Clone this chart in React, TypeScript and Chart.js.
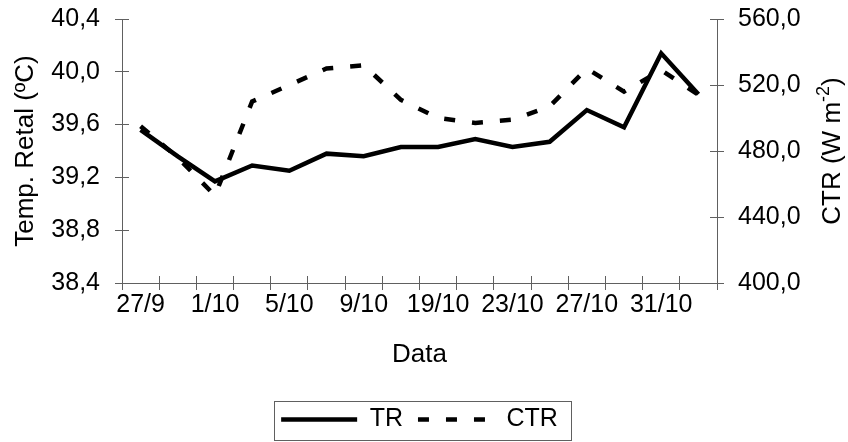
import React, { useEffect, useRef } from 'react';
import { Chart, registerables } from 'chart.js';

Chart.register(...registerables);

const categories = ['27/9', '29/9', '1/10', '3/10', '5/10', '7/10', '9/10', '17/10', '19/10', '21/10', '23/10', '25/10', '27/10', '29/10', '31/10', '2/11'];
const trValues = [39.56, 39.36, 39.17, 39.29, 39.25, 39.38, 39.36, 39.43, 39.43, 39.49, 39.43, 39.47, 39.71, 39.58, 40.14, 39.83];
const ctrValues = [495, 476, 453, 510, 520, 530, 532, 511, 500, 497, 499, 507, 530, 516, 529, 514];
const leftTicks = [38.4, 38.8, 39.2, 39.6, 40.0, 40.4];
const rightTicks = [400, 440, 480, 520, 560];

const FAMILY = '"Liberation Sans", Arial, Helvetica, sans-serif';
const FS = 25;
const TFS = 26;
const AXIS = '#606060';
const CTR_DASH = [11, 17];

const fmt = (v: number) => Number(v).toFixed(1).replace('.', ',');

const innerTicks = {
  id: 'innerTicks',
  beforeDatasetsDraw(chart: any) {
    const { ctx } = chart;
    const x = chart.scales.x;
    const yl = chart.scales.y;
    const yr = chart.scales.y1;
    const L = 7;
    ctx.save();
    ctx.strokeStyle = AXIS;
    ctx.lineWidth = 1;
    ctx.beginPath();
    yl.ticks.forEach((_t: any, i: number) => {
      const py = Math.floor(yl.getPixelForTick(i)) + 0.5;
      ctx.moveTo(yl.right, py);
      ctx.lineTo(yl.right + L, py);
    });
    yr.ticks.forEach((_t: any, i: number) => {
      const py = Math.floor(yr.getPixelForTick(i)) + 0.5;
      ctx.moveTo(yr.left - L, py);
      ctx.lineTo(yr.left, py);
    });
    const n = x.ticks.length;
    const step = (x.right - x.left) / n;
    for (let i = 0; i <= n; i++) {
      const px = Math.floor(x.left + i * step) + 0.5;
      ctx.moveTo(px, x.top - L);
      ctx.lineTo(px, x.top);
    }
    ctx.stroke();
    ctx.restore();
  },
};

const extras = {
  id: 'extras',
  afterDraw(chart: any) {
    const { ctx, chartArea } = chart;
    // right axis title, rotated, with superscript
    const cy = (chartArea.top + chartArea.bottom) / 2;
    const bx = 840;
    const SUP = 18;
    ctx.save();
    ctx.translate(bx, cy);
    ctx.rotate(-Math.PI / 2);
    ctx.fillStyle = '#000';
    ctx.textBaseline = 'alphabetic';
    ctx.textAlign = 'left';
    const main = 'CTR (W m';
    const sup = '-2';
    const close = ')';
    ctx.font = `${TFS}px ${FAMILY}`;
    const w1 = ctx.measureText(main).width;
    const w3 = ctx.measureText(close).width;
    ctx.font = `${SUP}px ${FAMILY}`;
    const w2 = ctx.measureText(sup).width;
    let sx = -(w1 + w2 + w3) / 2;
    ctx.font = `${TFS}px ${FAMILY}`;
    ctx.fillText(main, sx, 0);
    sx += w1;
    ctx.font = `${SUP}px ${FAMILY}`;
    ctx.fillText(sup, sx, -11);
    sx += w2;
    ctx.font = `${TFS}px ${FAMILY}`;
    ctx.fillText(close, sx, 0);
    ctx.restore();

    // legend frame
    const lg = chart.legend;
    if (lg && lg.legendHitBoxes && lg.legendHitBoxes.length) {
      const hb = lg.legendHitBoxes;
      let l = Infinity, r = -Infinity, t = Infinity, b = -Infinity;
      hb.forEach((h: any) => {
        l = Math.min(l, h.left);
        r = Math.max(r, h.left + h.width);
        t = Math.min(t, h.top);
        b = Math.max(b, h.top + h.height);
      });
      ctx.save();
      ctx.strokeStyle = AXIS;
      ctx.lineWidth = 1;
      ctx.strokeRect(Math.floor(l - 7) + 0.5, Math.floor(t - 6) + 0.5, Math.round(r - l + 20), Math.round(b - t + 14));
      ctx.restore();
    }
  },
};

export default function App() {
  const ref = useRef<HTMLCanvasElement>(null);
  useEffect(() => {
    const font = { family: FAMILY, size: FS };
    const tfont = { family: FAMILY, size: TFS };
    const chart = new Chart(ref.current as HTMLCanvasElement, {
      type: 'line',
      data: {
        labels: categories,
        datasets: [
          {
            label: 'TR',
            data: trValues,
            yAxisID: 'y',
            borderColor: '#000',
            backgroundColor: '#000',
            borderWidth: 4.5,
            pointRadius: 0,
            tension: 0,
            fill: false,
          },
          {
            label: 'CTR',
            data: ctrValues,
            yAxisID: 'y1',
            borderColor: '#000',
            backgroundColor: '#000',
            borderWidth: 4.5,
            borderDash: CTR_DASH,
            pointRadius: 0,
            tension: 0,
            fill: false,
          },
        ],
      },
      options: {
        animation: false,
        responsive: false,
        layout: { padding: { left: 0, right: 9, top: 19, bottom: 0 } },
        plugins: {
          legend: {
            position: 'bottom',
            labels: {
              usePointStyle: true,
              pointStyle: 'line',
              pointStyleWidth: 76,
              padding: 15,
              color: '#000',
              font,
              generateLabels: (c: any) => {
                const items = (Chart as any).defaults.plugins.legend.labels.generateLabels(c);
                items.forEach((it: any, i: number) => {
                  it.lineDash = c.data.datasets[i].borderDash || [];
                  it.lineWidth = 4.5;
                  it.strokeStyle = '#000';
                  it.fillStyle = '#000';
                });
                return items;
              },
            },
          },
          tooltip: { enabled: false },
        },
        scales: {
          x: {
            type: 'category',
            offset: true,
            grid: { offset: true, drawOnChartArea: false, drawTicks: true, tickLength: 7, color: AXIS },
            border: { color: AXIS },
            ticks: {
              autoSkip: false,
              maxRotation: 0,
              minRotation: 0,
              padding: 0,
              color: '#000',
              font,
              callback: (_v: any, i: number) => (i % 2 === 0 ? categories[i] : ''),
            },
            title: { display: true, text: 'Data', color: '#000', font: tfont, padding: { top: 4, bottom: 22 } },
            afterFit: (s: any) => {
              s.height = 109;
            },
          },
          y: {
            position: 'left',
            min: 38.4,
            max: 40.4,
            afterBuildTicks: (s: any) => {
              s.ticks = leftTicks.map((v) => ({ value: v }));
            },
            grid: { drawOnChartArea: false, tickLength: 7, color: AXIS },
            border: { color: AXIS },
            ticks: { padding: 15, color: '#000', font, callback: (v: any) => fmt(v) },
            title: { display: true, text: 'Temp. Retal (ºC)', color: '#000', font: tfont, padding: { top: 10, bottom: 0 } },
            afterFit: (s: any) => {
              s.width = 122;
              s.paddingTop = 0;
              s.paddingBottom = 0;
            },
          },
          y1: {
            position: 'right',
            min: 400,
            max: 560,
            afterBuildTicks: (s: any) => {
              s.ticks = rightTicks.map((v) => ({ value: v }));
            },
            grid: { drawOnChartArea: false, tickLength: 7, color: AXIS },
            border: { color: AXIS },
            ticks: { padding: 14, color: '#000', font, callback: (v: any) => fmt(v) },
            afterFit: (s: any) => {
              s.width = 122;
              s.paddingTop = 0;
              s.paddingBottom = 0;
            },
          },
        },
      },
      plugins: [innerTicks, extras],
    } as any);
    return () => chart.destroy();
  }, []);
  return (
    <div style={{ position: 'fixed', left: 0, top: 0, width: 848, height: 442, background: '#fff' }}>
      <canvas ref={ref} width={848} height={442} style={{ display: 'block', width: 848, height: 442 }} />
    </div>
  );
}
